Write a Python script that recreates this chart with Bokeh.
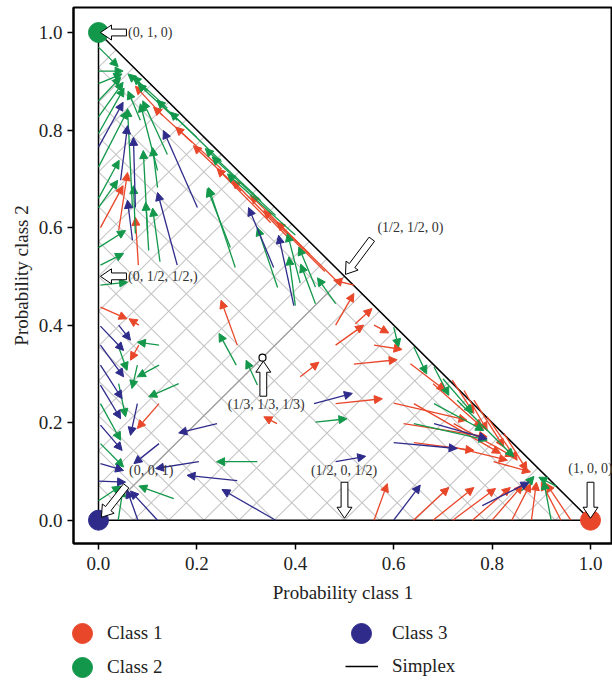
import math
from bokeh.plotting import figure
from bokeh.layouts import column
from bokeh.models import (ColumnDataSource, Arrow, NormalHead, Legend, LegendItem,
                          FixedTicker, Range1d, PrintfTickFormatter)
from bokeh.core.properties import value
from bokeh.embed import file_html
from bokeh.resources import INLINE

RED = "#e9472a"
GREEN = "#13984b"
BLUE = "#2e2b8b"
SERIF = "Liberation Serif"

# ---------------- data ----------------
class_names = ["Class 1", "Class 2", "Class 3"]
corner_x = [1.0, 0.0, 0.0]
corner_y = [0.0, 1.0, 0.0]
simplex_x = [0.0, 1.0, 0.0, 0.0]
simplex_y = [0.0, 0.0, 1.0, 0.0]
tick_values = [0.0, 0.2, 0.4, 0.6, 0.8, 1.0]
grid_step = 1.0 / 14

# arrows: (x_start, y_start, x_end, y_end)
class1_arrows = [
    (0.004, 0.600, 0.050, 0.686), (0.041, 0.594, 0.059, 0.713), (0.081, 0.523, 0.075, 0.621),
    (0.130, 0.830, 0.075, 0.890), (0.190, 0.775, 0.112, 0.847), (0.250, 0.720, 0.157, 0.806),
    (0.290, 0.675, 0.193, 0.768), (0.350, 0.610, 0.241, 0.721), (0.390, 0.575, 0.272, 0.697),
    (0.430, 0.545, 0.309, 0.666), (0.460, 0.510, 0.336, 0.635), (0.490, 0.485, 0.363, 0.611),
    (0.519, 0.482, 0.478, 0.492), (0.482, 0.400, 0.519, 0.465), (0.522, 0.403, 0.556, 0.434),
    (0.482, 0.359, 0.539, 0.400), (0.560, 0.400, 0.590, 0.384), (0.560, 0.359, 0.617, 0.350),
    (0.519, 0.320, 0.607, 0.329), (0.410, 0.294, 0.448, 0.324), (0.634, 0.321, 0.705, 0.266),
    (0.680, 0.280, 0.780, 0.190), (0.719, 0.287, 0.763, 0.219), (0.743, 0.266, 0.790, 0.184),
    (0.763, 0.246, 0.824, 0.150), (0.790, 0.212, 0.851, 0.123), (0.824, 0.178, 0.871, 0.102),
    (0.482, 0.239, 0.577, 0.249), (0.600, 0.240, 0.749, 0.205), (0.641, 0.239, 0.817, 0.137),
    (0.620, 0.198, 0.790, 0.171), (0.722, 0.198, 0.844, 0.130), (0.641, 0.159, 0.763, 0.143),
    (0.722, 0.150, 0.831, 0.123), (0.803, 0.120, 0.878, 0.099), (0.282, 0.359, 0.249, 0.451),
    (0.363, 0.198, 0.336, 0.212), (0.004, 0.437, 0.058, 0.413), (0.082, 0.400, 0.062, 0.413),
    (0.082, 0.359, 0.065, 0.328), (0.123, 0.239, 0.079, 0.188), (0.560, 0.000, 0.587, 0.075),
    (0.640, 0.000, 0.712, 0.067), (0.680, 0.000, 0.763, 0.067), (0.720, 0.000, 0.807, 0.065),
    (0.760, 0.000, 0.837, 0.067), (0.800, 0.000, 0.862, 0.072), (0.840, 0.000, 0.878, 0.075),
    (0.880, 0.000, 0.890, 0.078), (0.940, 0.000, 0.900, 0.078), (0.960, 0.000, 0.910, 0.075),
]
class2_arrows = [
    (0.000, 0.970, 0.040, 0.930), (0.000, 0.921, 0.050, 0.921), (0.000, 0.895, 0.048, 0.915),
    (0.000, 0.860, 0.045, 0.908), (0.000, 0.827, 0.050, 0.898), (0.000, 0.793, 0.052, 0.886),
    (0.000, 0.724, 0.059, 0.840), (0.000, 0.660, 0.042, 0.738), (0.000, 0.641, 0.039, 0.697),
    (0.000, 0.559, 0.055, 0.594), (0.004, 0.523, 0.051, 0.547), (0.004, 0.482, 0.059, 0.488),
    (0.069, 0.641, 0.059, 0.844), (0.120, 0.717, 0.085, 0.854), (0.100, 0.588, 0.091, 0.758),
    (0.075, 0.588, 0.071, 0.686), (0.102, 0.553, 0.096, 0.652), (0.125, 0.530, 0.110, 0.640),
    (0.085, 0.820, 0.060, 0.880), (0.140, 0.750, 0.090, 0.860), (0.120, 0.682, 0.110, 0.764),
    (0.268, 0.559, 0.221, 0.680), (0.278, 0.518, 0.224, 0.682), (0.364, 0.477, 0.323, 0.600),
    (0.410, 0.486, 0.384, 0.588), (0.400, 0.440, 0.387, 0.540), (0.441, 0.478, 0.407, 0.560),
    (0.441, 0.444, 0.411, 0.525), (0.482, 0.444, 0.445, 0.497), (0.200, 0.785, 0.119, 0.861),
    (0.250, 0.735, 0.146, 0.837), (0.330, 0.655, 0.217, 0.762), (0.360, 0.625, 0.231, 0.745),
    (0.400, 0.585, 0.262, 0.710), (0.140, 0.845, 0.070, 0.910), (0.100, 0.880, 0.060, 0.915),
    (0.160, 0.820, 0.080, 0.895), (0.600, 0.396, 0.610, 0.355), (0.641, 0.355, 0.667, 0.300),
    (0.682, 0.314, 0.712, 0.256), (0.700, 0.290, 0.760, 0.220), (0.682, 0.239, 0.783, 0.184),
    (0.729, 0.246, 0.844, 0.130), (0.641, 0.198, 0.790, 0.164), (0.441, 0.201, 0.505, 0.208),
    (0.920, 0.000, 0.905, 0.080), (0.860, 0.060, 0.885, 0.090), (0.930, 0.070, 0.895, 0.088),
    (0.280, 0.318, 0.245, 0.383), (0.323, 0.277, 0.300, 0.328), (0.123, 0.359, 0.079, 0.365),
    (0.041, 0.355, 0.058, 0.307), (0.123, 0.318, 0.079, 0.294), (0.079, 0.318, 0.068, 0.270),
    (0.163, 0.280, 0.102, 0.253), (0.041, 0.280, 0.055, 0.212), (0.004, 0.239, 0.045, 0.164),
    (0.004, 0.157, 0.051, 0.109), (0.323, 0.120, 0.240, 0.120), (0.153, 0.044, 0.082, 0.070),
    (0.040, 0.000, 0.050, 0.065), (0.000, 0.040, 0.045, 0.070),
]
class3_arrows = [
    (0.000, 0.765, 0.050, 0.857), (0.045, 0.697, 0.059, 0.809), (0.075, 0.641, 0.071, 0.785),
    (0.069, 0.574, 0.059, 0.656), (0.160, 0.523, 0.120, 0.672), (0.201, 0.641, 0.132, 0.799),
    (0.356, 0.518, 0.305, 0.641), (0.397, 0.440, 0.366, 0.584), (0.438, 0.239, 0.516, 0.260),
    (0.682, 0.198, 0.790, 0.167), (0.600, 0.159, 0.729, 0.147), (0.482, 0.120, 0.543, 0.131),
    (0.600, 0.000, 0.654, 0.072), (0.780, 0.030, 0.875, 0.078), (0.041, 0.400, 0.065, 0.369),
    (0.004, 0.398, 0.051, 0.348), (0.004, 0.359, 0.051, 0.294), (0.004, 0.318, 0.048, 0.249),
    (0.004, 0.277, 0.045, 0.208), (0.079, 0.239, 0.065, 0.174), (0.004, 0.195, 0.048, 0.143),
    (0.241, 0.198, 0.163, 0.179), (0.123, 0.157, 0.072, 0.116), (0.004, 0.116, 0.051, 0.102),
    (0.204, 0.120, 0.116, 0.106), (0.282, 0.081, 0.180, 0.092), (0.360, 0.000, 0.251, 0.063),
    (0.000, 0.080, 0.055, 0.078), (0.080, 0.000, 0.058, 0.062), (0.120, 0.000, 0.065, 0.060),
]

# annotated simplex points: label, label x, label y, alignment
ann_labels = ["(0, 1, 0)", "(0, 1/2, 1/2,)", "(1/2, 1/2, 0)", "(1/3, 1/3, 1/3)",
              "(1/2, 0, 1/2)", "(1, 0, 0)", "(0, 0, 1)"]
ann_label_x = [0.060, 0.060, 0.634, 0.341, 0.499, 1.000, 0.062]
ann_label_y = [1.000, 0.500, 0.601, 0.238, 0.102, 0.106, 0.102]
ann_align = ["left", "left", "center", "center", "center", "center", "left"]
# pointer arrows: tip (data), direction (screen, y up), length (px)
ptr_tip_x = [0.004, 0.004, 0.502, 0.335, 0.500, 1.000, 0.006]
ptr_tip_y = [1.000, 0.500, 0.504, 0.326, 0.004, 0.004, 0.006]
ptr_dir = [(-1, 0), (-1, 0), (-26.7, -35.7), (0, 1), (0, -1), (0, -1), (-22, -28)]
ptr_len = [26, 26, 44, 35, 36, 36, 40]

# ---------------- main figure ----------------
X0, X1 = -0.0508, 1.0447
Y0, Y1 = -0.0478, 1.0513
FW, FH = 539, 536
p = figure(frame_width=FW, frame_height=FH, x_range=Range1d(X0, X1), y_range=Range1d(Y0, Y1),
           output_backend="svg", toolbar_location=None,
           min_border_left=73, min_border_right=0, min_border_top=7, min_border_bottom=66)
p.background_fill_color = "white"
p.border_fill_color = "white"
p.outline_line_color = "black"
p.outline_line_width = 2
p.grid.visible = False

for ax in (p.xaxis, p.yaxis):
    ax.ticker = FixedTicker(ticks=tick_values)
    ax.formatter = PrintfTickFormatter(format="%.1f")
    ax.minor_tick_line_color = None
    ax.major_tick_out = 6
    ax.major_tick_in = 0
    ax.major_tick_line_width = 1.5
    ax.axis_line_width = 2
    ax.major_label_text_font = SERIF
    ax.major_label_text_font_size = "19px"
    ax.major_label_text_color = "#222222"
    ax.axis_label_text_font = SERIF
    ax.axis_label_text_font_size = "19px"
    ax.axis_label_text_font_style = "normal"
    ax.axis_label_text_color = "#222222"
p.xaxis.axis_label = "Probability class 1"
p.yaxis.axis_label = "Probability class 2"
p.xaxis.major_label_standoff = 7
p.xaxis.axis_label_standoff = 9
p.yaxis.axis_label_standoff = 4

# diagonal lattice inside the simplex
gx0, gy0, gx1, gy1 = [], [], [], []
n = int(round(1 / grid_step))
for k in range(1, n):
    c = k * grid_step
    gx0.append(0.0); gy0.append(c); gx1.append(c); gy1.append(0.0)
for k in range(-n + 1, n):
    c = k * grid_step
    if c >= 0:
        sx_, sy_ = 0.0, c
    else:
        sx_, sy_ = -c, 0.0
    gx0.append(sx_); gy0.append(sy_); gx1.append((1 - c) / 2); gy1.append((1 + c) / 2)
p.segment(gx0, gy0, gx1, gy1, line_color="#c6c6c6", line_width=1.1)
p.line([0, 0.5], [0, 0.5], line_color="#9c9c9c", line_width=1.2)

p.line(simplex_x, simplex_y, line_color="black", line_width=1.5)

colors = [RED, GREEN, BLUE]
for i in range(3):
    p.scatter([corner_x[i]], [corner_y[i]], size=20, fill_color=colors[i], line_color=colors[i])

for arrows, c in ((class1_arrows, RED), (class2_arrows, GREEN), (class3_arrows, BLUE)):
    src = ColumnDataSource(dict(x0=[a[0] for a in arrows], y0=[a[1] for a in arrows],
                                x1=[a[2] for a in arrows], y1=[a[3] for a in arrows]))
    p.add_layout(Arrow(source=src, x_start="x0", y_start="y0", x_end="x1", y_end="y1",
                       line_color=c, line_width=1.3,
                       end=NormalHead(size=8, fill_color=c, line_color=c, line_width=1)))

# hollow block pointers
sx = FW / (X1 - X0)
sy = FH / (Y1 - Y0)
HL, HW, SW = 11.0, 7.5, 3.4
pxs, pys = [], []
for tx, ty, (dx, dy), L in zip(ptr_tip_x, ptr_tip_y, ptr_dir, ptr_len):
    m = math.hypot(dx, dy)
    ux, uy = dx / m, dy / m
    nx, ny = -uy, ux
    pts = [(0, 0), (-HL, HW), (-HL, SW), (-L, SW), (-L, -SW), (-HL, -SW), (-HL, -HW)]
    xs, ys = [], []
    for a, b in pts:
        ox = a * ux + b * nx
        oy = a * uy + b * ny
        xs.append(tx + ox / sx)
        ys.append(ty + oy / sy)
    pxs.append(xs); pys.append(ys)
p.patches(pxs, pys, fill_color="white", line_color="black", line_width=1, level="overlay")
p.scatter([1 / 3], [1 / 3], size=7, fill_color="white", line_color="black", line_width=1.2, level="overlay")

for lab, lx, ly, al in zip(ann_labels, ann_label_x, ann_label_y, ann_align):
    p.text([lx], [ly], text=[lab], text_font=value(SERIF), text_font_size="14px",
           text_align=al, text_baseline="middle", text_color="#333333", level="overlay")

# ---------------- legend strip ----------------
LH = 71
lf = figure(frame_width=612, frame_height=LH, x_range=Range1d(2, 3), y_range=Range1d(2, 3),
            x_axis_type=None, y_axis_type=None, output_backend="svg", toolbar_location=None,
            min_border=0, min_border_left=0, min_border_right=0, min_border_top=0, min_border_bottom=0)
lf.outline_line_color = None
lf.grid.visible = False
lf.background_fill_color = "white"
lf.border_fill_color = "white"
# legend renderers reuse the corner points and simplex; they lie outside this strip's view
lr = [lf.scatter([corner_x[i]], [corner_y[i]], size=20, fill_color=colors[i], line_color=colors[i])
      for i in range(3)]
lr_simplex = lf.line(simplex_x, simplex_y, line_color="black", line_width=1.5)

common = dict(border_line_color=None, background_fill_alpha=0, padding=0, margin=0,
              label_text_font=SERIF, label_text_font_size="19px", label_text_color="#222222",
              orientation="vertical")
leg1 = Legend(items=[LegendItem(label=class_names[0], renderers=[lr[0]])],
              location=(57, 22), glyph_width=50, glyph_height=50, label_standoff=0, **common)
leg2 = Legend(items=[LegendItem(label=class_names[1], renderers=[lr[1]])],
              location=(57, -12), glyph_width=50, glyph_height=50, label_standoff=0, **common)
leg3 = Legend(items=[LegendItem(label=class_names[2], renderers=[lr[2]])],
              location=(336, 22), glyph_width=50, glyph_height=50, label_standoff=6, **common)
legS = Legend(items=[LegendItem(label="Simplex", renderers=[lr_simplex])],
              location=(345, 3), glyph_width=33, glyph_height=20, label_standoff=14, **common)
for lg in (leg1, leg2, leg3, legS):
    lf.add_layout(lg)

layout = column(p, lf, spacing=0)
open("out.html", "w").write(file_html(layout, INLINE))
